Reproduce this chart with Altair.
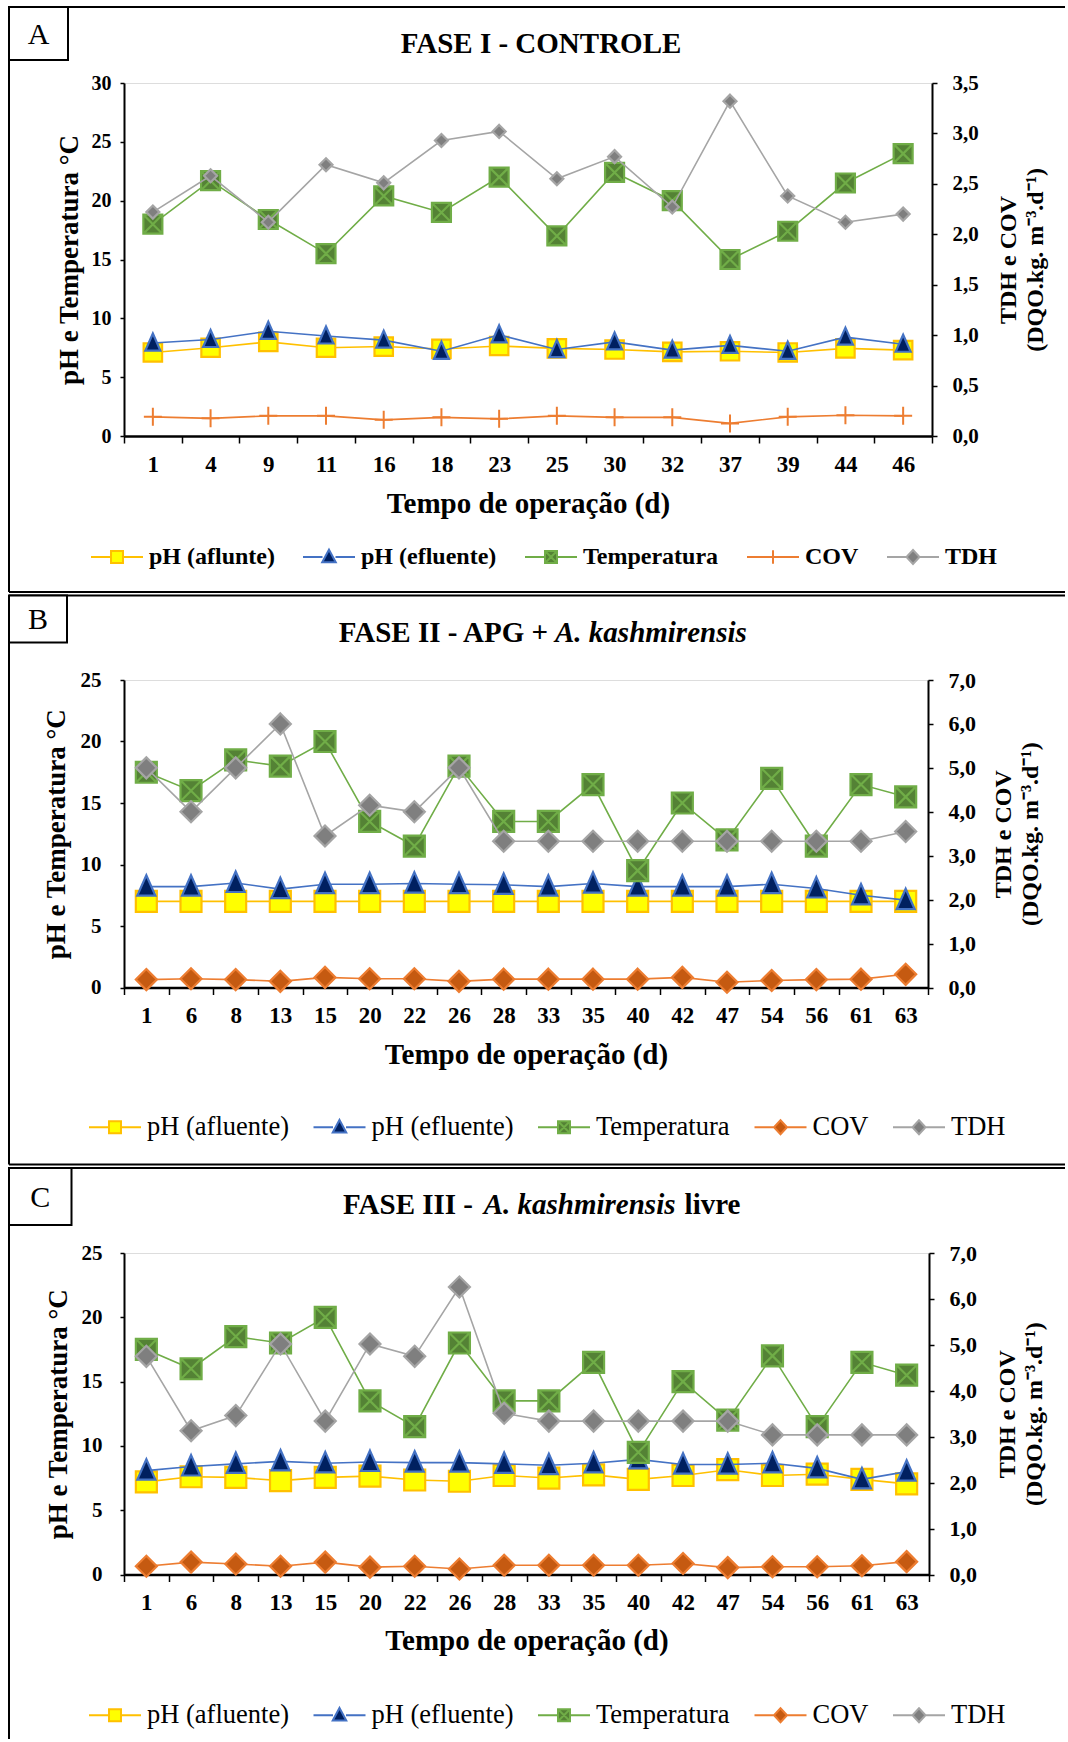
import altair as alt
import pandas as pd

FONT = "Liberation Serif"

# ---------------- data ----------------
series_A = ["pH (aflunte)", "pH (efluente)", "Temperatura", "COV", "TDH"]
series_BC = ["pH (afluente)", "pH (efluente)", "Temperatura", "COV", "TDH"]

dias_A = ["1", "4", "9", "11", "16", "18", "23", "25", "30", "32", "37", "39", "44", "46"]
ph_afl_A = [7.1, 7.5, 8.0, 7.5, 7.6, 7.4, 7.65, 7.45, 7.35, 7.15, 7.2, 7.1, 7.45, 7.3]
ph_efl_A = [7.9, 8.2, 8.9, 8.5, 8.15, 7.2, 8.6, 7.35, 8.0, 7.3, 7.7, 7.2, 8.4, 7.8]
temp_A = [18.0, 21.7, 18.4, 15.5, 20.4, 19.0, 22.0, 17.0, 22.4, 20.0, 15.0, 17.4, 21.5, 24.0]
cov_A = [0.19, 0.175, 0.20, 0.20, 0.16, 0.185, 0.17, 0.20, 0.185, 0.185, 0.125, 0.19, 0.205, 0.20]
tdh_A = [2.22, 2.58, 2.12, 2.69, 2.51, 2.93, 3.02, 2.55, 2.77, 2.27, 3.32, 2.38, 2.12, 2.20]

dias_BC = ["1", "6", "8", "13", "15", "20", "22", "26", "28", "33", "35", "40", "42", "47", "54", "56", "61", "63"]
ph_afl_B = [7.0, 7.0, 7.0, 7.0, 7.0, 7.0, 7.0, 7.0, 7.0, 7.0, 7.0, 7.0, 7.0, 7.0, 7.0, 7.0, 7.0, 7.0]
ph_efl_B = [8.2, 8.2, 8.5, 8.0, 8.4, 8.4, 8.45, 8.4, 8.35, 8.2, 8.45, 8.2, 8.2, 8.2, 8.4, 8.05, 7.5, 7.1]
temp_B = [17.5, 16.0, 18.5, 18.0, 20.0, 13.5, 11.5, 18.0, 13.5, 13.5, 16.5, 9.5, 15.0, 12.0, 17.0, 11.5, 16.5, 15.5]
cov_B = [0.18, 0.20, 0.18, 0.14, 0.23, 0.20, 0.20, 0.14, 0.19, 0.19, 0.19, 0.19, 0.23, 0.12, 0.16, 0.18, 0.19, 0.30]
tdh_B = [5.0, 4.0, 5.0, 6.0, 3.45, 4.15, 4.0, 5.0, 3.33, 3.33, 3.33, 3.33, 3.33, 3.33, 3.33, 3.33, 3.33, 3.55]

ph_afl_C = [7.2, 7.6, 7.55, 7.3, 7.55, 7.65, 7.35, 7.25, 7.7, 7.5, 7.75, 7.4, 7.7, 8.15, 7.7, 7.8, 7.4, 7.05]
ph_efl_C = [8.08, 8.4, 8.6, 8.8, 8.65, 8.75, 8.7, 8.7, 8.6, 8.5, 8.65, 8.95, 8.55, 8.55, 8.65, 8.25, 7.4, 8.0]
temp_C = [17.5, 16.0, 18.5, 18.0, 20.0, 13.5, 11.5, 18.0, 13.5, 13.5, 16.5, 9.5, 15.0, 12.0, 17.0, 11.5, 16.5, 15.5]
cov_C = [0.18, 0.27, 0.23, 0.18, 0.27, 0.16, 0.18, 0.12, 0.20, 0.20, 0.20, 0.20, 0.24, 0.15, 0.17, 0.17, 0.19, 0.28]
tdh_C = [4.75, 3.13, 3.46, 5.02, 3.34, 5.02, 4.75, 6.26, 3.51, 3.34, 3.34, 3.34, 3.34, 3.34, 3.04, 3.04, 3.04, 3.04]

left_ticks_A = [0, 5, 10, 15, 20, 25, 30]
right_ticks_A = [0, 0.5, 1.0, 1.5, 2.0, 2.5, 3.0, 3.5]
left_ticks_BC = [0, 5, 10, 15, 20, 25]
right_ticks_BC = [0, 1, 2, 3, 4, 5, 6, 7]

# ---------------- styles ----------------
LINE_COL = ["#FFC000", "#4472C4", "#70AD47", "#ED7D31", "#A5A5A5"]
STROKE_COL = ["#FFC000", "#4472C4", "#70AD47", "#ED7D31", "#A5A5A5"]
FILL_A = ["#FFFF00", "#002060", "#548235", "transparent", "#7F7F7F"]
FILL_BC = ["#FFFF00", "#002060", "#548235", "#C55A11", "#7F7F7F"]

SQ = "M-1,-1H1V1H-1Z"
TRI = "M0,-1.2L0.95,0.95H-0.95Z"
SQX = "M-1,-1H1V1H-1ZM-1,-1L1,1M1,-1L-1,1"
PLUS = "M-1,0H1M0,-1V1"
DIA = "M0,-1L1,0L0,1L-1,0Z"

m = 0.23
LEG_SQ = f"M-1,0H-{m}M{m},0H1M-{m},-{m}H{m}V{m}H-{m}Z"
LEG_TRI = "M-1,0H-0.25M0.25,0H1M0,-0.28L0.26,0.2H-0.26Z"
LEG_SQX = f"M-1,0H-{m}M{m},0H1M-{m},-{m}H{m}V{m}H-{m}ZM-{m},-{m}L{m},{m}M{m},-{m}L-{m},{m}"
LEG_PLUS = "M-1,0H1M0,-0.26V0.26"
LEG_DIA = "M-1,0H-0.25M0.25,0H1M0,-0.27L0.25,0L0,0.27L-0.25,0Z"

one = alt.Data(values=[{"k": 0}])


def build_df(dias, names, cols):
    rows = []
    for name, vals in zip(names, cols):
        for d, v in zip(dias, vals):
            rows.append({"dia": d, "serie": name, "valor": v})
    return pd.DataFrame(rows)


def rule(x, y, x2, y2, w=2):
    return alt.Chart(one).mark_rule(color="black", strokeWidth=w).encode(
        x=alt.value(x), y=alt.value(y), x2=alt.value(x2), y2=alt.value(y2))


def box(x, y, x2, y2):
    return alt.Chart(one).mark_rect(fill="white", stroke="black", strokeWidth=2).encode(
        x=alt.value(x), y=alt.value(y), x2=alt.value(x2), y2=alt.value(y2))


def txt(text, x, y, size, weight="bold", style="normal", align="center", baseline="alphabetic"):
    return alt.Chart(one).mark_text(
        text=text, font=FONT, fontSize=size, fontWeight=weight, fontStyle=style,
        align=align, baseline=baseline, color="black"
    ).encode(x=alt.value(x), y=alt.value(y))


def panel(cfg):
    names = cfg["names"]
    df = build_df(cfg["dias"], names, cfg["cols"])
    W, H = cfg["W"], cfg["H"]

    x = alt.X("dia:O", sort=cfg["dias"], bandPosition=0.5,
              scale=alt.Scale(type="band", paddingInner=0, paddingOuter=0),
              axis=alt.Axis(title="Tempo de operação (d)", labelAngle=0, tickBand="extent",
                            tickSize=7, tickWidth=1.5, tickColor="black",
                            labelPadding=10, titlePadding=cfg["xtp"],
                            labelFont=FONT, labelFontSize=cfg["xls"], labelFontWeight="bold",
                            labelColor="black", titleFont=FONT, titleFontSize=29,
                            titleFontWeight="bold", titleColor="black",
                            domainColor="black", domainWidth=2.5, grid=False))
    yl = alt.Y("valor:Q", scale=alt.Scale(domain=[cfg["left_ticks"][0], cfg["left_ticks"][-1]], nice=False),
               axis=alt.Axis(title="pH e Temperatura °C", values=cfg["left_ticks"], tickSize=4,
                             tickColor="black", tickWidth=1.5, labelPadding=cfg["ylp"],
                             titlePadding=cfg["ytp"],
                             labelFont=FONT, labelFontSize=cfg["yls"], labelFontWeight="bold",
                             labelColor="black", titleFont=FONT, titleFontSize=27,
                             titleFontWeight="bold", titleColor="black",
                             domainColor="black", domainWidth=2, grid=False))
    yr = alt.Y("valor:Q", scale=alt.Scale(domain=[cfg["right_ticks"][0], cfg["right_ticks"][-1]], nice=False),
               axis=alt.Axis(title=["TDH e COV", "(DQO.kg. m⁻³.d⁻¹)"], orient="right",
                             values=cfg["right_ticks"], tickSize=5, tickColor="black", tickWidth=1.5,
                             labelPadding=15, titleAngle=270, titleBaseline="top",
                             titleX=cfg["rtx"], titleY=H / 2, titleAlign="center",
                             titleLineHeight=27,
                             labelExpr="replace(format(datum.value, '.1f'), '.', ',')",
                             labelFont=FONT, labelFontSize=cfg["rls"], labelFontWeight="bold",
                             labelColor="black", titleFont=FONT, titleFontSize=24,
                             titleFontWeight="bold", titleColor="black",
                             domainColor="black", domainWidth=2, grid=False))

    left_layers, right_layers = [], []
    for i, s in enumerate(names):
        base = alt.Chart(df).transform_filter(alt.datum.serie == s)
        y = yl if i < 3 else yr
        ln = base.mark_line(color=LINE_COL[i], strokeWidth=1.6).encode(x=x, y=y)
        fill = cfg["fills"][i]
        if fill == "transparent":
            pt = base.mark_point(filled=False, shape=cfg["shapes"][i], color=STROKE_COL[i],
                                 size=cfg["sizes"][i], strokeWidth=2, opacity=1).encode(x=x, y=y)
        else:
            pt = base.mark_point(filled=True, shape=cfg["shapes"][i], fill=fill, stroke=STROKE_COL[i],
                                 size=cfg["sizes"][i], strokeWidth=2.2, opacity=1).encode(x=x, y=y)
        (left_layers if i < 3 else right_layers).extend([ln, pt])

    leg_def = alt.Legend(title=None, orient="none", legendX=cfg["legX"], legendY=cfg["legY"],
                         direction="horizontal", symbolSize=2704, symbolStrokeWidth=2,
                         symbolOpacity=1, labelFont=FONT, labelFontSize=cfg["legfs"],
                         labelFontWeight=cfg["legfw"], labelColor="black", labelOffset=5,
                         columnPadding=cfg["legcp"], padding=0, labelLimit=400)
    leg = alt.Chart(df).transform_filter("false").mark_point(filled=True, opacity=1).encode(
        shape=alt.Shape("serie:N", scale=alt.Scale(domain=names, range=cfg["legshapes"]), legend=leg_def),
        fill=alt.Fill("serie:N", scale=alt.Scale(domain=names, range=cfg["fills"]), legend=leg_def),
        stroke=alt.Stroke("serie:N", scale=alt.Scale(domain=names, range=STROKE_COL), legend=leg_def),
    )

    fr = cfg["frame"]
    deco = [rule(fr["l"], fr["t"], fr["r"], fr["t"]), rule(fr["l"], fr["t"], fr["l"], fr["b"])]
    if fr.get("bottom", True):
        deco.append(rule(fr["l"], fr["b"], fr["r"], fr["b"]))
    bx = cfg["box"]
    deco.append(box(bx[0], bx[1], bx[2], bx[3]))
    texts = [txt(cfg["letter"], (bx[0] + bx[2]) / 2, (bx[1] + bx[3]) / 2 + 10, 30, weight="normal")]
    for t in cfg["title"]:
        texts.append(txt(t[0], t[1], t[2], 29, style=t[3], align=t[4]))

    left = alt.layer(*left_layers)
    right = alt.layer(*right_layers)
    return alt.layer(*deco, left, right, leg, *texts).resolve_scale(y="independent").properties(width=W, height=H)


cfgA = dict(
    names=series_A, dias=dias_A, cols=[ph_afl_A, ph_efl_A, temp_A, cov_A, tdh_A],
    W=808, H=353, left_ticks=left_ticks_A, right_ticks=right_ticks_A,
    xls=23, yls=20, rls=21, xtp=13, ylp=9, ytp=8, rtx=64,
    fills=FILL_A, shapes=[SQ, TRI, SQX, PLUS, DIA], sizes=[340, 250, 361, 324, 169],
    legshapes=[LEG_SQ, LEG_TRI, LEG_SQX, LEG_PLUS, LEG_DIA],
    legX=-34, legY=447, legfs=24, legfw="bold", legcp=24,
    frame=dict(l=-115, t=-76, r=941, b=509),
    box=(-115, -76, -56, -23), letter="A",
    title=[("FASE I - CONTROLE", 417, -30, "normal", "center")],
)
cfgB = dict(
    names=series_BC, dias=dias_BC, cols=[ph_afl_B, ph_efl_B, temp_B, cov_B, tdh_B],
    W=804, H=307.5, left_ticks=left_ticks_BC, right_ticks=right_ticks_BC,
    xls=23, yls=21, rls=22, xtp=13, ylp=19, ytp=9.5, rtx=63,
    fills=FILL_BC, shapes=[SQ, TRI, SQX, DIA, DIA], sizes=[441, 361, 441, 441, 441],
    legshapes=[LEG_SQ, LEG_TRI, LEG_SQX, LEG_DIA, LEG_DIA],
    legX=-36, legY=420, legfs=26.5, legfw="normal", legcp=20.5,
    frame=dict(l=-115, t=-84.5, r=941, b=484.5),
    box=(-115, -84.5, -57, -37.5), letter="B",
    title=[("FASE II - APG +", 424, -38.5, "normal", "right"),
           ("A. kashmirensis", 431, -38.5, "italic", "left")],
)
cfgC = dict(
    names=series_BC, dias=dias_BC, cols=[ph_afl_C, ph_efl_C, temp_C, cov_C, tdh_C],
    W=805, H=321.5, left_ticks=left_ticks_BC, right_ticks=right_ticks_BC,
    xls=23, yls=21, rls=22, xtp=12, ylp=18, ytp=8.3, rtx=66,
    fills=FILL_BC, shapes=[SQ, TRI, SQX, DIA, DIA], sizes=[441, 361, 441, 441, 441],
    legshapes=[LEG_SQ, LEG_TRI, LEG_SQX, LEG_DIA, LEG_DIA],
    legX=-36, legY=435, legfs=26.5, legfw="normal", legcp=20.5,
    frame=dict(l=-115, t=-85, r=941, b=486, bottom=False),
    box=(-115, -85, -52.5, -28), letter="C",
    title=[("FASE III -", 349, -39, "normal", "right"),
           ("A. kashmirensis", 359.7, -39, "italic", "left"),
           ("livre", 560.6, -39, "normal", "left")],
)

chart = alt.concat(panel(cfgA), panel(cfgB), panel(cfgC), columns=1, spacing=0).resolve_scale(
    shape="independent", fill="independent", stroke="independent"
).properties(
    padding={"left": 7, "top": 5, "right": 0, "bottom": 0}
).configure_view(stroke="black", strokeWidth=2).configure(font=FONT, background="white")

chart.save("out.html", embed_options={"renderer": "svg", "actions": False})
